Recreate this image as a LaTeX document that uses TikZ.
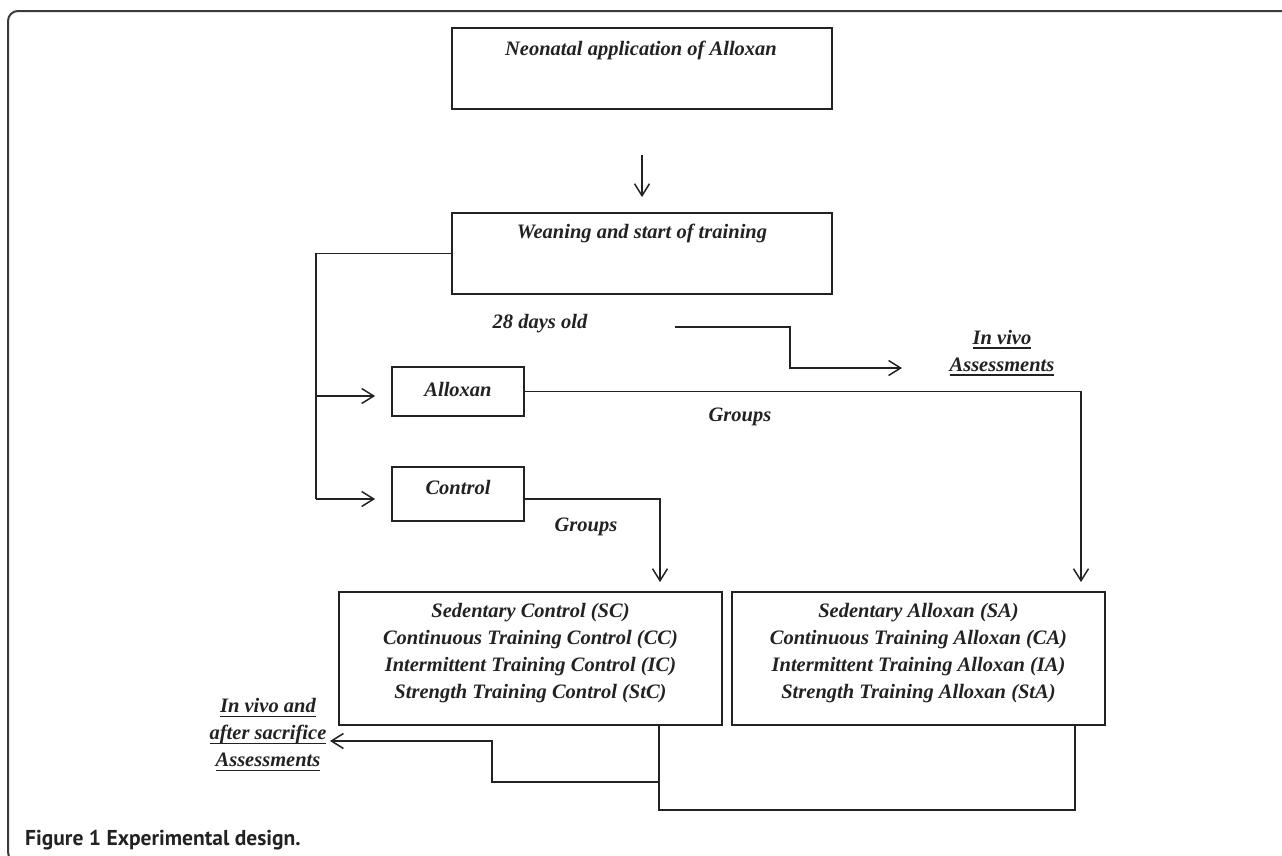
\documentclass[tikz,border=0pt]{standalone}
\usepackage{fontspec}
\setmainfont{Liberation Serif}
\newfontfamily\capfont{PT Sans}
\usetikzlibrary{arrows.meta,calc}
\definecolor{ink}{HTML}{222222}
\definecolor{framec}{HTML}{3A3A3A}
\newcommand\ulx[1]{\leavevmode\setbox0\hbox{#1}\rlap{\rule[-4.5pt]{\wd0}{1.8pt}}\box0}
\begin{document}
\begin{tikzpicture}[x=1pt,y=-1pt,
  box/.style={draw=ink, line width=1.8pt, inner sep=0pt, rectangle},
  txt/.style={font=\fontsize{20.5}{27}\selectfont\bfseries\itshape, inner sep=0pt, align=center, text=ink},
  conn/.style={draw=ink, line width=1.5pt},
  arr/.style={conn, -{Straight Barb[length=12pt,width=15pt,line width=1.5pt]}},
  framestyle/.style={draw=framec, line width=2pt}
]
\useasboundingbox (0,0) rectangle (1282,855);
\begin{scope}
\clip (0,0) rectangle (1282,855);
\draw[framestyle, rounded corners=10pt] (1300,11) -- (8,11) -- (8,862) -- (1300,862);
\end{scope}

% boxes
\node[box, minimum width=380pt, minimum height=81pt] (b1) at (642,68.5) {};
\node[txt] (t1) at (641,50) {Neonatal application of Alloxan};
\node[box, minimum width=380pt, minimum height=81pt] (b2) at (642,253.5) {};
\node[txt] (t2) at (642,233) {Weaning and start of training};
\node[box, minimum width=132pt, minimum height=49pt] (allo) at (458,391.5) {};
\node[txt] (tallo) at (458,389) {Alloxan};
\node[box, minimum width=132pt, minimum height=54pt] (ctrl) at (458,494) {};
\node[txt] (tctrl) at (458,487) {Control};
\node[box, minimum width=383pt, minimum height=133pt] (lbox) at (530.5,658.5) {};
\node[txt] (tl) at (530.5,653.5) {Sedentary Control (SC)\\Continuous Training Control (CC)\\Intermittent Training Control (IC)\\Strength Training Control (StC)};
\node[box, minimum width=373pt, minimum height=133pt] (rbox) at (918.5,658.5) {};
\node[txt] (tr) at (918.5,653.5) {Sedentary Alloxan (SA)\\Continuous Training Alloxan (CA)\\Intermittent Training Alloxan (IA)\\Strength Training Alloxan (StA)};

% labels
\node[txt] (days) at (540,324) {28 days old};
\node[txt] (invivo) at (1002,353) {\ulx{In vivo}\\\ulx{Assessments}};
\node[txt] (g1) at (740,417) {Groups};
\node[txt] (g2) at (586,527) {Groups};
\node[txt] (after) at (268,735) {\ulx{In vivo and}\\\ulx{after sacrifice}\\\ulx{Assessments}};
\node[font=\capfont\fontsize{21.5}{26}\selectfont\bfseries, text=ink, anchor=west, inner sep=0pt] (cap) at (25,840) {Figure 1 Experimental design.};

% coordinates
\coordinate (a1s) at (642,155);
\coordinate (lv) at (316,253.5);
\coordinate (lvb) at (316,499);
\coordinate (lva) at (316,396);
\coordinate (d1) at (675,327);
\coordinate (d2) at (790,327);
\coordinate (d3) at (790,368);
\coordinate (d4) at (902,368);
\coordinate (ra) at (1081,391.5);
\coordinate (ca) at (660,499);
\coordinate (lb) at (659,725);
\coordinate (lbm) at (659,782);
\coordinate (lbb) at (659,810);
\coordinate (rb) at (1075,725);
\coordinate (rbb) at (1075,810);
\coordinate (m1) at (492,782);
\coordinate (m2) at (492,741);
\coordinate (m3) at (330,741);

% connectors
\draw[arr] (a1s) -- ([yshift=15pt]b2.north);
\draw[conn] (b2.west) -- (lv) -- (lvb);
\draw[arr] (lva) -- ([xshift=-16pt]allo.west |- lva);
\draw[arr] (lvb) -- ([xshift=-16pt]ctrl.west |- lvb);
\draw[arr] (d1) -- (d2) -- (d3) -- (d4);
\draw[arr] (allo.east) -- (ra) -- ([yshift=9pt]rbox.north -| ra);
\draw[arr] (ctrl.east |- ca) -- (ca) -- ([yshift=9pt]lbox.north -| ca);
\draw[conn] (lb) -- (lbb) -- (rbb) -- (rb);
\draw[arr] (lbm) -- (m1) -- (m2) -- (m3);
\end{tikzpicture}
\end{document}
